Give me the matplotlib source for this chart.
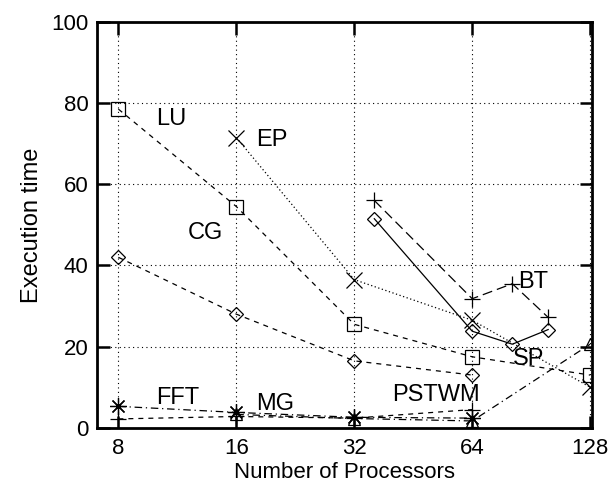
import numpy as np
import matplotlib.pyplot as plt

plt.rcParams['font.family'] = ['Liberation Sans', 'DejaVu Sans']

# execution time per benchmark
lu_procs = [8, 16, 32, 64, 128]
lu_time = [78.5, 54.5, 25.5, 17.5, 13.0]

ep_procs = [16, 32, 64, 128]
ep_time = [71.5, 36.5, 26.5, 10.0]

cg_procs = [8, 16, 32, 64]
cg_time = [42.0, 28.0, 16.5, 13.0]

bt_procs = [36, 64, 81, 100]
bt_time = [56.0, 31.8, 35.5, 27.2]

sp_procs = [36, 64, 81, 100]
sp_time = [51.5, 23.8, 20.6, 24.2]

fft_procs = [8, 16, 32, 64]
fft_time = [5.3, 3.8, 2.6, 2.4]

mg_procs = [8, 16, 32, 64]
mg_time = [2.2, 2.8, 2.4, 4.5]

pstwm_procs = [16, 32, 64, 128]
pstwm_time = [3.3, 2.3, 1.7, 20.6]

xticks = [8, 16, 32, 64, 128]
yticks = [0, 20, 40, 60, 80, 100]

fig = plt.figure(figsize=(6.13, 4.84), dpi=100)
ax = fig.add_axes([0.158, 0.116, 0.808, 0.839])

lw = 0.9
ms_kw = dict(markerfacecolor='none', markeredgecolor='black', markeredgewidth=0.9)

ax.plot(lu_procs, lu_time, color='black', lw=lw, ls=(0, (4, 4)), marker='s', markersize=10, **ms_kw)
ax.plot(ep_procs, ep_time, color='black', lw=lw, ls=(0, (1, 2)), marker='x', markersize=11, **ms_kw)
ax.plot(cg_procs, cg_time, color='black', lw=lw, ls=(0, (4, 4)), marker='D', markersize=7.5, **ms_kw)
ax.plot(bt_procs, bt_time, color='black', lw=lw, ls=(0, (8, 4)), marker='+', markersize=12, **ms_kw)
ax.plot(sp_procs, sp_time, color='black', lw=lw, ls='-', marker='D', markersize=7.5, **ms_kw)
ax.plot(fft_procs, fft_time, color='black', lw=lw, ls=(0, (6, 3, 1, 3)), marker=(8, 2, 0), markersize=12, **ms_kw)
ax.plot(mg_procs, mg_time, color='black', lw=lw, ls=(0, (4, 4)), marker='+', markersize=12, **ms_kw)
ax.plot(pstwm_procs, pstwm_time, color='black', lw=lw, ls=(0, (6, 3, 1, 3)), marker='^', markersize=9, **ms_kw)

labels = [('LU', 10.0, 76.0), ('EP', 18.0, 71.0), ('CG', 12.0, 48.0),
          ('BT', 84.0, 36.0), ('SP', 81.5, 17.0), ('FFT', 10.0, 7.3),
          ('MG', 18.0, 5.8), ('PSTWM', 40.0, 8.0)]
for txt, lx, ly in labels:
    ax.text(lx, ly, txt, fontsize=17, ha='left', va='center')

ax.set_xscale('log', base=2)
ax.set_xlim(7.05, 129.5)
ax.set_ylim(0, 100)
ax.set_xticks(xticks)
ax.set_xticklabels([str(t) for t in xticks])
ax.xaxis.set_minor_locator(plt.NullLocator())
ax.set_yticks(yticks)

ax.grid(True, ls=(0, (1, 3)), color='black', lw=0.8)
ax.tick_params(direction='in', length=9, width=1.8, top=True, right=True, labelsize=16)
ax.tick_params(axis='x', pad=7)
ax.tick_params(axis='y', pad=6)
for s in ax.spines.values():
    s.set_linewidth(2)

ax.set_xlabel('Number of Processors', fontsize=16)
ax.xaxis.set_label_coords(0.5, -0.084)
ax.set_ylabel('Execution time', fontsize=17, labelpad=6)

fig.savefig('out.png', dpi=100)
